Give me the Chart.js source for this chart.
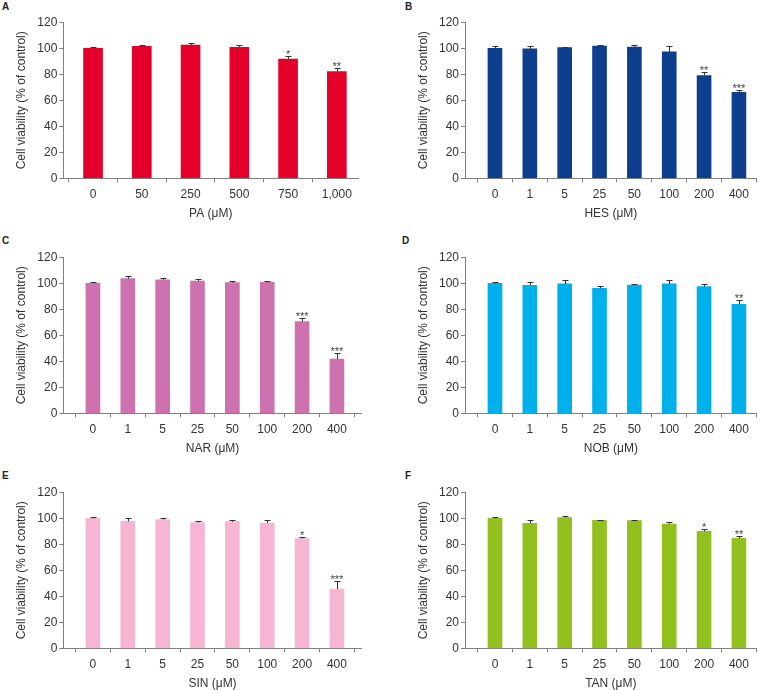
<!DOCTYPE html>
<html><head><meta charset="utf-8">
<script src="https://cdn.jsdelivr.net/npm/chart.js@4"></script>
<style>
html,body{margin:0;padding:0;background:#fff;width:769px;height:690px;overflow:hidden;position:relative;font-family:"Liberation Sans",Arial,sans-serif}
canvas{position:absolute}
.lbl{position:absolute;font:bold 10px/10px "Liberation Sans",Arial,sans-serif;color:#222}
</style></head><body>
<div class="lbl" style="left:2px;top:2px">A</div>
<div class="lbl" style="left:405px;top:2px">B</div>
<div class="lbl" style="left:2px;top:236px">C</div>
<div class="lbl" style="left:402px;top:236px">D</div>
<div class="lbl" style="left:2px;top:471px">E</div>
<div class="lbl" style="left:405px;top:471px">F</div>
<canvas id="cA"></canvas><canvas id="cB"></canvas><canvas id="cC"></canvas>
<canvas id="cD"></canvas><canvas id="cE"></canvas><canvas id="cF"></canvas>
<script>
// ---- data ----
const catsPA = ['0','50','250','500','750','1,000'];
const catsFlav = ['0','1','5','25','50','100','200','400'];
const yTicks = [0,20,40,60,80,100,120];

const valPA  = [100, 101.5, 102.5, 100.8, 91.8, 82];
const errPA  = [1, 1, 1.5, 1.5, 2.3, 2.6];
const sigPA  = ['', '', '', '', '*', '**'];

const valHES = [100, 99.5, 100.5, 101.8, 101, 97.2, 79, 66.2];
const errHES = [1.5, 2, 0.8, 0.8, 1.8, 4.6, 2.5, 1.8];
const sigHES = ['', '', '', '', '', '', '**', '***'];

const valNAR = [100, 103.6, 102.6, 101.8, 100.5, 100.8, 70.5, 41.8];
const errNAR = [1.3, 2.3, 1.8, 1.2, 1.5, 1.2, 3, 4.4];
const sigNAR = ['', '', '', '', '', '', '***', '***'];

const valNOB = [100, 98.5, 99.5, 96.2, 98.7, 99.5, 97.4, 83.8];
const errNOB = [0.8, 2.3, 2.8, 2, 1, 2.8, 2.3, 3];
const sigNOB = ['', '', '', '', '', '', '', '**'];

const valSIN = [100, 97.7, 99, 96.7, 97.4, 96.4, 84.4, 45.6];
const errSIN = [1, 2.3, 1.5, 1.5, 1.3, 2, 1.2, 6];
const sigSIN = ['', '', '', '', '', '', '*', '***'];

const valTAN = [100, 96.2, 100.5, 98.5, 98.2, 95.6, 90, 84.6];
const errTAN = [1, 2.3, 1.5, 0.5, 0.8, 1.5, 1.8, 1.8];
const sigTAN = ['', '', '', '', '', '', '*', '**'];

// ---- layout ----
const FONT = {family:'"Liberation Sans", Arial, sans-serif', size:12};
const TXT = '#333';
const AX = '#808080';
const H = 230, TOP = 22.3, BOT = 178.3;

const panels = [
  {id:'cA', left:0,   top:0,   w:385, axL:63.3, axR:358.3, min:-0.61, max:5.44, bw:19, color:'#e4002b', cats:catsPA,   vals:valPA,  errs:errPA,  sigs:sigPA,  xt:'PA (\u03bcM)'},
  {id:'cB', left:402, top:0,   w:367, axL:63,   axR:354.7, min:-0.86, max:7.51, bw:14, color:'#0e3f8f', cats:catsFlav, vals:valHES, errs:errHES, sigs:sigHES, xt:'HES (\u03bcM)'},
  {id:'cC', left:0,   top:235, w:385, axL:63.3, axR:361.7, min:-0.85, max:7.71, bw:14, color:'#cd72ae', cats:catsFlav, vals:valNAR, errs:errNAR, sigs:sigNAR, xt:'NAR (\u03bcM)'},
  {id:'cD', left:402, top:235, w:367, axL:63,   axR:354.7, min:-0.86, max:7.51, bw:14, color:'#00b0ea', cats:catsFlav, vals:valNOB, errs:errNOB, sigs:sigNOB, xt:'NOB (\u03bcM)'},
  {id:'cE', left:0,   top:470, w:385, axL:63.3, axR:361.7, min:-0.85, max:7.71, bw:14, color:'#f5b5d3', cats:catsFlav, vals:valSIN, errs:errSIN, sigs:sigSIN, xt:'SIN (\u03bcM)'},
  {id:'cF', left:402, top:470, w:367, axL:63,   axR:354.7, min:-0.86, max:7.51, bw:14, color:'#92c01f', cats:catsFlav, vals:valTAN, errs:errTAN, sigs:sigTAN, xt:'TAN (\u03bcM)'}
];

function errPlugin(p){
  return {
    id:'errbars',
    afterDatasetsDraw(chart){
      const ctx = chart.ctx, ys = chart.scales.y, meta = chart.getDatasetMeta(0);
      ctx.save();
      ctx.strokeStyle = '#333'; ctx.lineWidth = 1;
      ctx.fillStyle = '#444';
      ctx.font = '11px "Liberation Sans", Arial, sans-serif';
      ctx.textAlign = 'center'; ctx.textBaseline = 'alphabetic';
      meta.data.forEach((bar, i) => {
        const v = p.vals[i], e = p.errs[i];
        const x = Math.round(bar.x) + 0.5;
        const y0 = ys.getPixelForValue(v);
        const y1 = Math.round(ys.getPixelForValue(v + e)) + 0.5;
        ctx.beginPath();
        ctx.moveTo(x, y0); ctx.lineTo(x, y1);
        ctx.moveTo(x - 3, y1); ctx.lineTo(x + 3, y1);
        ctx.stroke();
        if (p.sigs[i]) ctx.fillText(p.sigs[i], bar.x, y1 + 1.5);
      });
      ctx.restore();
    }
  };
}

panels.forEach(p => {
  const cv = document.getElementById(p.id);
  cv.width = p.w; cv.height = H;
  cv.style.left = p.left + 'px'; cv.style.top = p.top + 'px';
  new Chart(cv, {
    type:'bar',
    data:{datasets:[{
      data: p.vals.map((v, i) => ({x:i, y:v})),
      backgroundColor: p.color,
      borderWidth: 0,
      barThickness: p.bw
    }]},
    options:{
      responsive:false, animation:false, devicePixelRatio:1,
      layout:{padding:{top:TOP, right:p.w - p.axR, bottom:0, left:0}},
      plugins:{legend:{display:false}, tooltip:{enabled:false}},
      scales:{
        x:{
          type:'linear', min:p.min, max:p.max, offset:false,
          afterBuildTicks: s => { s.ticks = p.cats.map((c, i) => ({value:i})); },
          ticks:{callback: v => p.cats[v], font:FONT, color:TXT, padding:5, maxRotation:0, autoSkip:false},
          grid:{display:true, drawOnChartArea:false, drawTicks:true, tickLength:4, tickColor:AX},
          border:{display:true, color:AX, width:1},
          title:{display:true, text:p.xt, font:FONT, color:TXT, padding:{top:0, bottom:9.3}},
          afterFit: s => { s.height = H - BOT; }
        },
        y:{
          min:0, max:120,
          afterBuildTicks: s => { s.ticks = yTicks.map(v => ({value:v})); },
          ticks:{font:FONT, color:TXT, padding:2},
          grid:{drawOnChartArea:false, tickLength:4, tickColor:AX},
          border:{display:true, color:AX, width:1},
          title:{display:true, text:'Cell viability (% of control)', font:FONT, color:TXT, padding:{top:14.5, bottom:0}},
          afterFit: s => { s.width = p.axL; }
        }
      }
    },
    plugins:[errPlugin(p)]
  });
});
</script>
</body></html>
